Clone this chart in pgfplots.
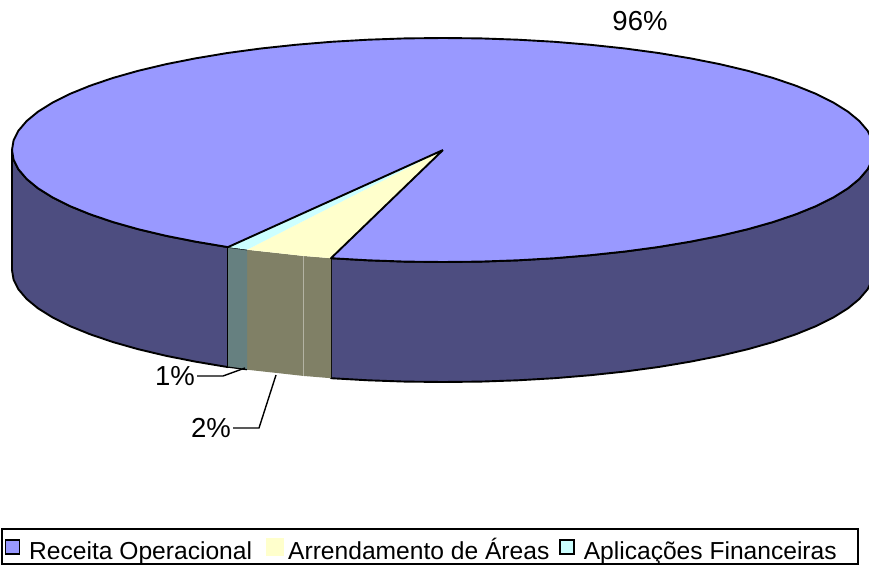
\documentclass[border=0pt]{standalone}
\usepackage{pgfplots}
\pgfplotsset{compat=1.18}
\usepackage{fontspec}
\setmainfont{Liberation Sans}
\definecolor{cPurple}{HTML}{9999FF}
\definecolor{cWall}{HTML}{4D4D80}
\definecolor{cYellow}{HTML}{FFFFCC}
\definecolor{cCyan}{HTML}{CCFFFF}
\definecolor{cTeal}{HTML}{668080}
\definecolor{cOlive}{HTML}{808066}
\begin{document}
\begin{tikzpicture}
\path[use as bounding box] (0,0) rectangle (869pt,566pt);
\begin{axis}[
  at={(0,0)}, anchor=south west,
  scale only axis, width=869pt, height=566pt,
  xmin=0, xmax=869, ymin=0, ymax=566,
  hide axis,
  legend style={at={(axis cs:1,1)}, anchor=south west, draw=black, line width=1.6pt,
    legend columns=3, font=\fontsize{24.6}{26}\selectfont,
    inner xsep=3pt, inner ysep=1pt,
    nodes={text height=27pt, text depth=2pt, inner xsep=3pt, inner ysep=2pt},
    /tikz/every odd column/.append style={column sep=1pt},
    /tikz/column 2/.append style={column sep=10.5pt},
    /tikz/column 4/.append style={column sep=7pt}},
  legend image code/.code={\draw[#1,line width=1.6pt] (1pt,-7pt) rectangle (15pt,7pt); \path (19.8pt,0pt);},
]
% right wall
\addplot[draw=black, line width=1.9pt, fill=cWall, line join=round, forget plot] coordinates {
(331,307.8)(368.2,305.7)(405.4,304.4)(443,304)(480.6,304.4)(517.8,305.7)(554.5,307.8)(590.4,310.8)(625.1,314.5)(658.5,319)(690.2,324.3)(720,330.2)(747.8,336.8)(773.2,344)(796.1,351.8)(816.3,360)(833.6,368.7)(848,377.7)(859.3,387)(867.5,396.6)(872.4,406.2)(874,416)
(874,296)(872.4,286.2)(867.5,276.6)(859.3,267)(848,257.7)(833.6,248.7)(816.3,240)(796.1,231.8)(773.2,224)(747.8,216.8)(720,210.2)(690.2,204.3)(658.5,199)(625.1,194.5)(590.4,190.8)(554.5,187.8)(517.8,185.7)(480.6,184.4)(443,184)(405.4,184.4)(368.2,185.7)(331,187.8)(331,307.8)};
% left wall
\addplot[draw=black, line width=1.9pt, fill=cWall, line join=round, forget plot] coordinates {
(12,416)(13.6,406.2)(18.5,396.6)(26.7,387)(38,377.7)(52.4,368.7)(69.7,360)(89.9,351.8)(112.8,344)(138.2,336.8)(166,330.2)(195.8,324.3)(228,318.9)
(228,198.9)(195.8,204.3)(166,210.2)(138.2,216.8)(112.8,224)(89.9,231.8)(69.7,240)(52.4,248.7)(38,257.7)(26.7,267)(18.5,276.6)(13.6,286.2)(12,296)(12,416)};
% slice walls
\addplot[draw=none, fill=cOlive, forget plot] coordinates {(247,316.3)(303,310.1)(331,307.8)(331,187.8)(303,190.1)(247,196.3)};
\addplot[draw=none, fill=cTeal, forget plot] coordinates {(228,318.9)(247,316.3)(247,196.3)(228,198.9)};
\addplot[draw=black, line width=1.2pt, forget plot] coordinates {(228,318.9)(247,316.3)};
\addplot[draw=black, line width=1.2pt, forget plot] coordinates {(228,198.9)(247,196.3)};
\addplot[draw=cOlive!60!white, line width=0.6pt, forget plot] coordinates {(303,310.1)(303,190.1)};
% top wedges
\addplot[draw=none, fill=cYellow, forget plot] coordinates {(443,416)(247,316.3)(303,310.1)(331,307.8)};
\addplot[draw=none, fill=cCyan, forget plot] coordinates {(443,416)(228,318.9)(247,316.3)};
% large slice
\addplot[draw=black, line width=1.9pt, fill=cPurple, line join=round, forget plot] coordinates {
(443,416)(331,307.8)(368.2,305.7)(405.4,304.4)(443,304)(480.6,304.4)(517.8,305.7)(554.5,307.8)(590.4,310.8)(625.1,314.5)(658.5,319)(690.2,324.3)(720,330.2)(747.8,336.8)(773.2,344)(796.1,351.8)(816.3,360)(833.6,368.7)(848,377.7)(859.3,387)(867.5,396.6)(872.4,406.2)(874,416)
(872.4,425.8)(867.5,435.4)(859.3,445)(848,454.3)(833.6,463.3)(816.3,472)(796.1,480.2)(773.2,488)(747.8,495.2)(720,501.8)(690.2,507.7)(658.5,513)(625.1,517.5)(590.4,521.2)(554.5,524.2)(517.8,526.3)(480.6,527.6)(443,528)(405.4,527.6)(368.2,526.3)(331.5,524.2)(295.6,521.2)(260.9,517.5)(227.5,513)(195.8,507.7)(166,501.8)(138.2,495.2)(112.8,488)(89.9,480.2)(69.7,472)(52.4,463.3)(38,454.3)(26.7,445)(18.5,435.4)(13.6,425.8)
(12,416)(13.6,406.2)(18.5,396.6)(26.7,387)(38,377.7)(52.4,368.7)(69.7,360)(89.9,351.8)(112.8,344)(138.2,336.8)(166,330.2)(195.8,324.3)(228,318.9)(443,416)};
% leaders
\addplot[draw=black, line width=1.4pt, forget plot] coordinates {(197,190)(223,190)(245,198)};
\addplot[draw=black, line width=1.4pt, forget plot] coordinates {(233,138)(259,138)(276,191)};
\node[font=\fontsize{27.5}{29}\selectfont] at (axis cs:640,545) {96\%};
\node[font=\fontsize{27.5}{29}\selectfont] at (axis cs:175,190) {1\%};
\node[font=\fontsize{27.5}{29}\selectfont] at (axis cs:211,138) {2\%};
% legend
\addlegendimage{draw=black, fill=cPurple}
\addlegendentry{Receita Operacional}
\addlegendimage{legend image code/.code={\fill[cYellow] (0pt,-8pt) rectangle (17pt,8pt);}}
\addlegendentry{Arrendamento de Áreas}
\addlegendimage{draw=black, fill=cCyan}
\addlegendentry{Aplicações Financeiras\kern15pt}
\end{axis}
\end{tikzpicture}
\end{document}
